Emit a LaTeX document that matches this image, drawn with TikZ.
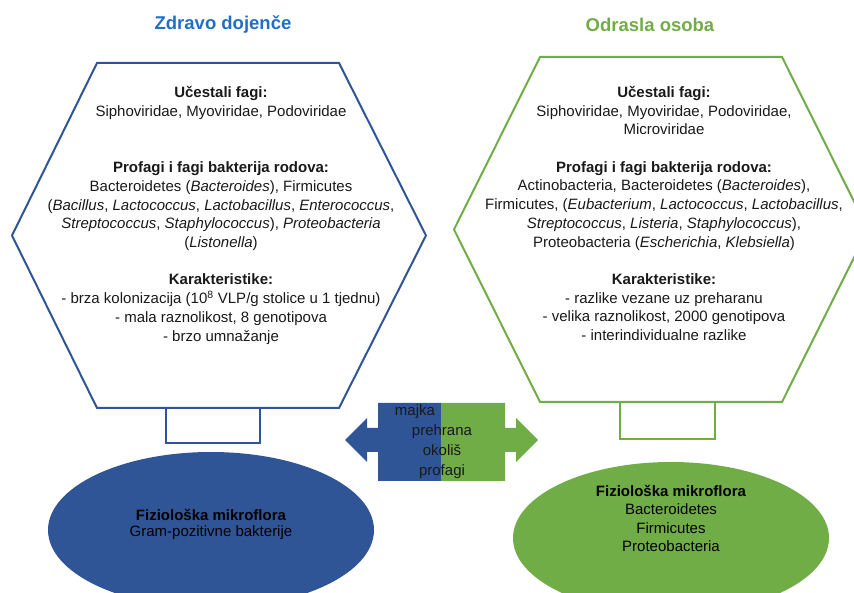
\documentclass[tikz,border=0pt]{standalone}
\usepackage{fontspec}
\setmainfont{Liberation Sans}
\usepackage{tikz}
\usetikzlibrary{shapes.geometric, arrows, positioning, calc}
\definecolor{infantblue}{HTML}{2F5597}
\definecolor{adultgreen}{HTML}{70AD47}
\definecolor{titleblue}{HTML}{1F6FC5}
\tikzstyle{title} = [font=\fontsize{18.5}{22}\selectfont\bfseries]
\tikzstyle{hexline} = [line width=2pt, line join=miter]
\tikzstyle{hextext} = [align=center, text=black!90, font=\fontsize{15}{18.7}\selectfont]
\tikzstyle{stem} = [rectangle, fill=white, line width=2pt, minimum width=94pt, minimum height=35pt]
\tikzstyle{flora} = [ellipse, minimum width=326pt, minimum height=156pt, inner sep=0pt]
\tikzstyle{floratext} = [align=center, text=black]
\tikzstyle{factorarrow} = [line join=miter]

\begin{document}
\begin{tikzpicture}[x=1pt, y=1pt, node distance=2cm, font=\fontsize{15}{18.7}\selectfont]
		\useasboundingbox (0,0) rectangle (854,592);
		
		\node (titleInfant) [title, text=titleblue] at (223,567) {Zdravo dojenče};
		\node (titleAdult) [title, text=adultgreen] at (650,567) {Odrasla osoba};
		
		\draw [hexline, draw=infantblue] (12,356.5) -- (97,529) -- (339,529) -- (426,356.5) -- (339,184) -- (97,184) -- cycle;
		\draw [hexline, draw=adultgreen] (454,362.5) -- (540,535) -- (782,535) -- (868,362.5) -- (782,190) -- (540,190) -- cycle;
		
		\node (hexInfant) [hextext] at (221,376.5) {\textbf{Učestali fagi:}\\
			Siphoviridae, Myoviridae, Podoviridae\\[37.4pt]
			\textbf{Profagi i fagi bakterija rodova:}\\
			Bacteroidetes (\textit{Bacteroides}), Firmicutes\\
			(\textit{Bacillus}, \textit{Lactococcus}, \textit{Lactobacillus}, \textit{Enterococcus},\\
			\textit{Streptococcus}, \textit{Staphylococcus}), \textit{Proteobacteria}\\
			(\textit{Listonella})\\[18.7pt]
			\textbf{Karakteristike:}\\
			- brza kolonizacija (10\textsuperscript{8} VLP/g stolice u 1 tjednu)\\
			- mala raznolikost, 8 genotipova\\
			- brzo umnažanje};
		
		\node (hexAdult) [hextext] at (664,378.5) {\textbf{Učestali fagi:}\\
			Siphoviridae, Myoviridae, Podoviridae,\\
			Microviridae\\[18.7pt]
			\textbf{Profagi i fagi bakterija rodova:}\\
			Actinobacteria, Bacteroidetes (\textit{Bacteroides}),\\
			Firmicutes, (\textit{Eubacterium}, \textit{Lactococcus}, \textit{Lactobacillus},\\
			\textit{Streptococcus}, \textit{Listeria}, \textit{Staphylococcus}),\\
			Proteobacteria (\textit{Escherichia}, \textit{Klebsiella})\\[18.7pt]
			\textbf{Karakteristike:}\\
			- razlike vezane uz preharanu\\
			- velika raznolikost, 2000 genotipova\\
			- interindividualne razlike};
		
		\node (stemInfant) [stem, draw=infantblue] at (213,166.5) {};
		\node (stemAdult) [stem, draw=adultgreen, minimum width=95pt, minimum height=37pt] at (667.5,171.5) {};
		
		\node (floraInfant) [flora, fill=infantblue] at (211,62) {};
		\node (floraAdult) [flora, fill=adultgreen, minimum width=316pt, minimum height=152pt] at (671,54) {};
		\node (floraInfantText) [floratext, font=\fontsize{15}{16}\selectfont, yshift=6pt] at (floraInfant) {\textbf{Fiziološka mikroflora}\\Gram-pozitivne bakterije};
		\node (floraAdultText) [floratext, font=\fontsize{15}{18.5}\selectfont, yshift=19.5pt] at (floraAdult) {\textbf{Fiziološka mikroflora}\\Bacteroidetes\\Firmicutes\\Proteobacteria};
		
		\fill [factorarrow, infantblue] (441,189) -- (378,189) -- (378,164) -- (367,164) -- (367,174) -- (345,152) -- (367,130) -- (367,140) -- (378,140) -- (378,111) -- (441,111) -- cycle;
		\fill [factorarrow, adultgreen] (441,189) -- (505,189) -- (505,164) -- (516,164) -- (516,174) -- (538,152) -- (516,130) -- (516,140) -- (505,140) -- (505,111) -- (441,111) -- cycle;
		\node (factors) [align=center, text=black!90, font=\fontsize{15}{20}\selectfont] at (442,150) {majka\hspace*{54pt}\\prehrana\\okoliš\\profagi};
\end{tikzpicture}
\end{document}
